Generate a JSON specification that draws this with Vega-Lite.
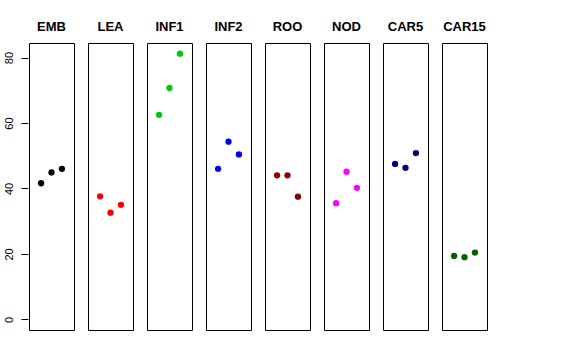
{
  "$schema": "https://vega.github.io/schema/vega-lite/v6.json",
  "padding": {"left": 2, "top": 21, "right": 5, "bottom": 5},
  "background": "white",
  "data": {"values": [
    {"tissue": "EMB", "rep": 1, "value": 41.6},
    {"tissue": "EMB", "rep": 2, "value": 44.9},
    {"tissue": "EMB", "rep": 3, "value": 46.0},
    {"tissue": "LEA", "rep": 1, "value": 37.6},
    {"tissue": "LEA", "rep": 2, "value": 32.6},
    {"tissue": "LEA", "rep": 3, "value": 35.0},
    {"tissue": "INF1", "rep": 1, "value": 62.5},
    {"tissue": "INF1", "rep": 2, "value": 70.7},
    {"tissue": "INF1", "rep": 3, "value": 81.2},
    {"tissue": "INF2", "rep": 1, "value": 46.0},
    {"tissue": "INF2", "rep": 2, "value": 54.3},
    {"tissue": "INF2", "rep": 3, "value": 50.4},
    {"tissue": "ROO", "rep": 1, "value": 44.0},
    {"tissue": "ROO", "rep": 2, "value": 44.0},
    {"tissue": "ROO", "rep": 3, "value": 37.5},
    {"tissue": "NOD", "rep": 1, "value": 35.5},
    {"tissue": "NOD", "rep": 2, "value": 45.1},
    {"tissue": "NOD", "rep": 3, "value": 40.2},
    {"tissue": "CAR5", "rep": 1, "value": 47.5},
    {"tissue": "CAR5", "rep": 2, "value": 46.3},
    {"tissue": "CAR5", "rep": 3, "value": 50.8},
    {"tissue": "CAR15", "rep": 1, "value": 19.4},
    {"tissue": "CAR15", "rep": 2, "value": 19.0},
    {"tissue": "CAR15", "rep": 3, "value": 20.4}
  ]},
  "facet": {
    "column": {
      "field": "tissue",
      "type": "nominal",
      "sort": ["EMB", "LEA", "INF1", "INF2", "ROO", "NOD", "CAR5", "CAR15"],
      "title": null,
      "header": {
        "labelFontWeight": "bold",
        "labelFontSize": 13,
        "labelFont": "Liberation Sans",
        "labelColor": "black",
        "labelPadding": 8
      }
    }
  },
  "spacing": 12,
  "spec": {
    "width": 45,
    "height": 287,
    "mark": {"type": "point", "filled": true, "opacity": 1, "size": 40},
    "encoding": {
      "x": {
        "field": "rep",
        "type": "quantitative",
        "scale": {"domain": [-0.16, 4.16], "nice": false, "zero": false},
        "axis": null
      },
      "y": {
        "field": "value",
        "type": "quantitative",
        "scale": {"domain": [-3.25, 84.45], "nice": false, "zero": false},
        "axis": {
          "title": null,
          "values": [0, 20, 40, 60, 80],
          "grid": false,
          "domain": false,
          "tickSize": 7,
          "tickColor": "black",
          "labelAngle": -90,
          "labelAlign": "center",
          "labelBaseline": "bottom",
          "labelPadding": 7,
          "labelFont": "Liberation Sans",
          "labelFontSize": 11,
          "labelColor": "black"
        }
      },
      "color": {
        "field": "tissue",
        "type": "nominal",
        "scale": {
          "domain": ["EMB", "LEA", "INF1", "INF2", "ROO", "NOD", "CAR5", "CAR15"],
          "range": ["#000000", "#FF0000", "#00CD00", "#0000FF", "#8B0000", "#FF00FF", "#000080", "#006400"]
        },
        "legend": null
      }
    }
  },
  "config": {
    "view": {"stroke": "black", "strokeWidth": 1}
  }
}
